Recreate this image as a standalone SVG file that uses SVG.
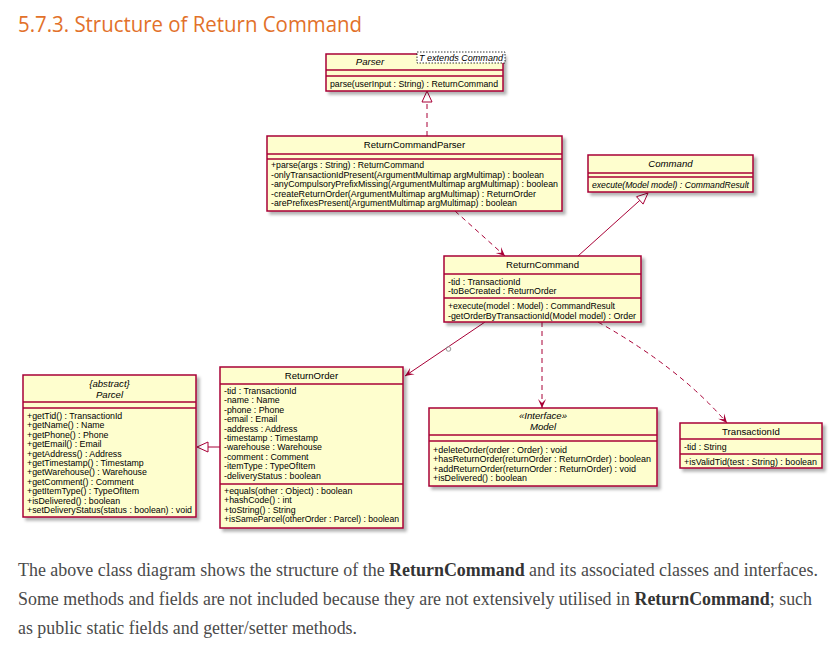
<svg xmlns="http://www.w3.org/2000/svg" width="840" height="646" viewBox="0 0 840 646">
<defs>
<filter id="sh" x="-10%" y="-10%" width="130%" height="130%">
<feDropShadow dx="3" dy="3" stdDeviation="1.5" flood-color="#000" flood-opacity="0.3"/>
</filter>
<marker id="ar" viewBox="-10 -5 11 10" refX="0" refY="0" markerWidth="11" markerHeight="10" markerUnits="userSpaceOnUse" orient="auto">
<path d="M0,0 L-9,-4 L-5,0 L-9,4 Z" fill="#A80036"/>
</marker>
</defs>
<style>
.box{fill:#FEFECE;stroke:#A80036;stroke-width:1.5;filter:url(#sh)}
.sep{stroke:#A80036;stroke-width:1.5}
.t{font-family:"Liberation Sans",Arial,sans-serif;font-size:8.8px;fill:#000}
.n{font-family:"Liberation Sans",Arial,sans-serif;font-size:9.6px;fill:#000;text-anchor:middle}
.i{font-style:italic}
.ln{stroke:#A80036;stroke-width:1;fill:none}
.d{stroke-dasharray:5,4}
.title{font-family:"Open Sans",sans-serif;font-size:22px;fill:#E2712A}
.p{font-family:"Liberation Serif","Times New Roman",serif;font-size:18px;fill:#4a4a4a}
.b{font-weight:bold;fill:#333}
</style>
<rect width="840" height="646" fill="#fff"/>
<text class="title" x="18" y="32" textLength="344" lengthAdjust="spacingAndGlyphs">5.7.3. Structure of Return Command</text>

<g id="connectors">
<line class="ln d" x1="427" y1="136" x2="427" y2="102"/>
<polygon class="ln" points="427,91 422,102 432,102"/>
<line class="ln d" x1="455" y1="211" x2="505" y2="256" marker-end="url(#ar)"/>
<line class="ln" x1="578" y1="256" x2="639.8" y2="200.4"/>
<polygon class="ln" points="648,193 643.1,204.1 636.5,196.7"/>
<line class="ln" x1="485" y1="322" x2="405" y2="376" marker-end="url(#ar)"/>
<circle cx="448.5" cy="349" r="2.3" fill="none" stroke="#999" stroke-width="1"/>
<line class="ln d" x1="542" y1="322" x2="542" y2="408" marker-end="url(#ar)"/>
<path class="ln d" d="M598,322 Q680,368 727,423" marker-end="url(#ar)"/>
<line class="ln" x1="220" y1="447" x2="208" y2="447"/>
<polygon class="ln" points="197,447 208,442 208,452"/>
</g>

<g id="parser">
<rect class="box" x="326" y="54" width="177" height="37"/>
<line class="sep" x1="326" y1="70" x2="503" y2="70"/>
<line class="sep" x1="326" y1="76" x2="503" y2="76"/>
<text class="n i" x="370" y="65">Parser</text>
<rect x="417" y="52" width="88" height="11" fill="#fff" stroke="#000" stroke-width="0.8" stroke-dasharray="1.5,1.5"/>
<text class="t i" x="419" y="60.5" font-size="8" textLength="84" lengthAdjust="spacingAndGlyphs">T extends Command</text>
<text class="t" x="330" y="87" textLength="168" lengthAdjust="spacingAndGlyphs">parse(userInput : String) : ReturnCommand</text>
</g>

<g id="returnCommandParser">
<rect class="box" x="267" y="136" width="295" height="75"/>
<line class="sep" x1="267" y1="154" x2="562" y2="154"/>
<line class="sep" x1="267" y1="159" x2="562" y2="159"/>
<text class="n" x="414.5" y="148">ReturnCommandParser</text>
<text class="t" x="271" y="168" textLength="153" lengthAdjust="spacingAndGlyphs">+parse(args : String) : ReturnCommand</text>
<text class="t" x="271" y="177.5" textLength="273" lengthAdjust="spacingAndGlyphs">-onlyTransactionIdPresent(ArgumentMultimap argMultimap) : boolean</text>
<text class="t" x="271" y="187" textLength="287" lengthAdjust="spacingAndGlyphs">-anyCompulsoryPrefixMissing(ArgumentMultimap argMultimap) : boolean</text>
<text class="t" x="271" y="196.5" textLength="265" lengthAdjust="spacingAndGlyphs">-createReturnOrder(ArgumentMultimap argMultimap) : ReturnOrder</text>
<text class="t" x="271" y="206" textLength="246" lengthAdjust="spacingAndGlyphs">-arePrefixesPresent(ArgumentMultimap argMultimap) : boolean</text>
</g>

<g id="command">
<rect class="box" x="588" y="155" width="165" height="37"/>
<line class="sep" x1="588" y1="173" x2="753" y2="173"/>
<line class="sep" x1="588" y1="177" x2="753" y2="177"/>
<text class="n i" x="670.5" y="167">Command</text>
<text class="t i" x="592" y="188" textLength="157" lengthAdjust="spacingAndGlyphs">execute(Model model) : CommandResult</text>
</g>

<g id="returnCommand">
<rect class="box" x="444" y="256" width="197" height="66"/>
<line class="sep" x1="444" y1="274" x2="641" y2="274"/>
<line class="sep" x1="444" y1="298" x2="641" y2="298"/>
<text class="n" x="542.5" y="268">ReturnCommand</text>
<text class="t" x="448" y="285">-tid : TransactionId</text>
<text class="t" x="448" y="294">-toBeCreated : ReturnOrder</text>
<text class="t" x="448" y="309" textLength="167" lengthAdjust="spacingAndGlyphs">+execute(model : Model) : CommandResult</text>
<text class="t" x="448" y="318.5" textLength="188" lengthAdjust="spacingAndGlyphs">-getOrderByTransactionId(Model model) : Order</text>
</g>

<g id="parcel">
<rect class="box" x="23" y="375" width="173" height="142"/>
<line class="sep" x1="23" y1="402" x2="196" y2="402"/>
<line class="sep" x1="23" y1="408" x2="196" y2="408"/>
<text class="n i" x="109.5" y="387">{abstract}</text>
<text class="n i" x="109.5" y="398">Parcel</text>
<text class="t" x="27" y="419">+getTid() : TransactionId</text>
<text class="t" x="27" y="428.4">+getName() : Name</text>
<text class="t" x="27" y="437.8">+getPhone() : Phone</text>
<text class="t" x="27" y="447.2">+getEmail() : Email</text>
<text class="t" x="27" y="456.6">+getAddress() : Address</text>
<text class="t" x="27" y="466">+getTimestamp() : Timestamp</text>
<text class="t" x="27" y="475.4">+getWarehouse() : Warehouse</text>
<text class="t" x="27" y="484.8">+getComment() : Comment</text>
<text class="t" x="27" y="494.2">+getItemType() : TypeOfItem</text>
<text class="t" x="27" y="503.6">+isDelivered() : boolean</text>
<text class="t" x="27" y="513" textLength="165" lengthAdjust="spacingAndGlyphs">+setDeliveryStatus(status : boolean) : void</text>
</g>

<g id="returnOrder">
<rect class="box" x="220" y="367" width="183" height="161"/>
<line class="sep" x1="220" y1="384" x2="403" y2="384"/>
<line class="sep" x1="220" y1="484" x2="403" y2="484"/>
<text class="n" x="311.5" y="379">ReturnOrder</text>
<text class="t" x="224" y="394">-tid : TransactionId</text>
<text class="t" x="224" y="403.4">-name : Name</text>
<text class="t" x="224" y="412.8">-phone : Phone</text>
<text class="t" x="224" y="422.2">-email : Email</text>
<text class="t" x="224" y="431.6">-address : Address</text>
<text class="t" x="224" y="441">-timestamp : Timestamp</text>
<text class="t" x="224" y="450.4">-warehouse : Warehouse</text>
<text class="t" x="224" y="459.8">-comment : Comment</text>
<text class="t" x="224" y="469.2">-itemType : TypeOfItem</text>
<text class="t" x="224" y="478.6">-deliveryStatus : boolean</text>
<text class="t" x="224" y="494">+equals(other : Object) : boolean</text>
<text class="t" x="224" y="503.4">+hashCode() : int</text>
<text class="t" x="224" y="512.8">+toString() : String</text>
<text class="t" x="224" y="522.2" textLength="175" lengthAdjust="spacingAndGlyphs">+isSameParcel(otherOrder : Parcel) : boolean</text>
</g>

<g id="model">
<rect class="box" x="429" y="408" width="228" height="78"/>
<line class="sep" x1="429" y1="435" x2="657" y2="435"/>
<line class="sep" x1="429" y1="441" x2="657" y2="441"/>
<text class="n i" x="543" y="419" font-size="8.6">«Interface»</text>
<text class="n i" x="543" y="430">Model</text>
<text class="t" x="433" y="453" textLength="134" lengthAdjust="spacingAndGlyphs">+deleteOrder(order : Order) : void</text>
<text class="t" x="433" y="462.4" textLength="218" lengthAdjust="spacingAndGlyphs">+hasReturnOrder(returnOrder : ReturnOrder) : boolean</text>
<text class="t" x="433" y="471.8" textLength="203" lengthAdjust="spacingAndGlyphs">+addReturnOrder(returnOrder : ReturnOrder) : void</text>
<text class="t" x="433" y="481.2" textLength="94" lengthAdjust="spacingAndGlyphs">+isDelivered() : boolean</text>
</g>

<g id="transactionId">
<rect class="box" x="680" y="423" width="142" height="45"/>
<line class="sep" x1="680" y1="439" x2="822" y2="439"/>
<line class="sep" x1="680" y1="454" x2="822" y2="454"/>
<text class="n" x="751" y="435">TransactionId</text>
<text class="t" x="684" y="450">-tid : String</text>
<text class="t" x="684" y="465" textLength="133" lengthAdjust="spacingAndGlyphs">+isValidTid(test : String) : boolean</text>
</g>

<text class="p" x="18" y="576" textLength="800" lengthAdjust="spacingAndGlyphs">The above class diagram shows the structure of the <tspan class="b">ReturnCommand</tspan> and its associated classes and interfaces.</text>
<text class="p" x="18" y="605" textLength="794" lengthAdjust="spacingAndGlyphs">Some methods and fields are not included because they are not extensively utilised in <tspan class="b">ReturnCommand</tspan>; such</text>
<text class="p" x="18" y="634" textLength="339" lengthAdjust="spacingAndGlyphs">as public static fields and getter/setter methods.</text>
</svg>
